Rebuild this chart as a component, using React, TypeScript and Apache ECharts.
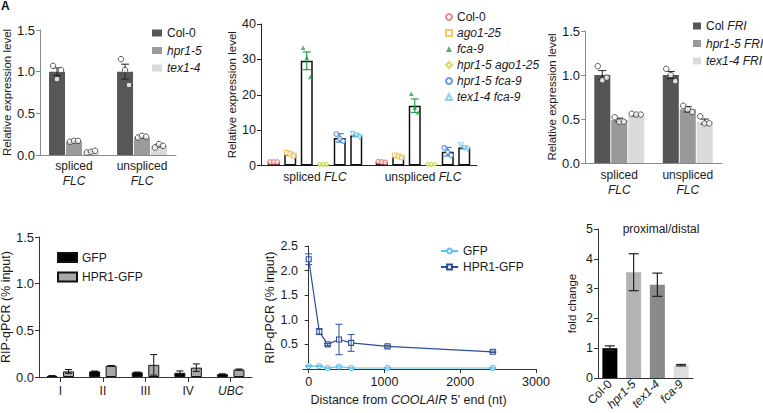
import React, { useEffect, useRef } from 'react';
import * as echarts from 'echarts';

const FONT = '"Liberation Sans", Arial, Helvetica, sans-serif';
const INK = '#1a1a1a';

// ---------- Panel A ----------
const aCategories = ['spliced', 'unspliced'];
const aGenotypes = ['Col-0', 'hpr1-5', 'tex1-4'];
const aMeans = [[1.0, 1.0], [0.16, 0.21], [0.04, 0.11]];
const aSem = [[0.045, 0.09], [0.006, 0.008], [0.005, 0.012]];
const aReps = [
  [[1.07, 0.91, 1.02], [1.15, 1.02, 0.84]],
  [[0.16, 0.17, 0.17], [0.21, 0.23, 0.22]],
  [[0.03, 0.04, 0.05], [0.09, 0.13, 0.11]],
];
const aColors = ['#575757', '#9b9b9b', '#d9d9d9'];

// ---------- Panel B ----------
const bCategories = ['spliced', 'unspliced'];
const bGenotypes = ['Col-0', 'ago1-25', 'fca-9', 'hpr1-5 ago1-25', 'hpr1-5 fca-9', 'tex1-4 fca-9'];
const bMeans = [[1.0, 1.0], [3.2, 2.6], [29.6, 16.9], [0.3, 0.3], [7.8, 3.9], [8.5, 5.1]];
const bSem = [[0.1, 0.1], [0.3, 0.3], [2.5, 1.9], [0.05, 0.05], [1.2, 1.2], [0.4, 0.5]];
const bReps = [
  [[1.0, 1.0, 1.0], [1.1, 1.0, 0.9]],
  [[3.6, 3.3, 2.8], [2.9, 2.6, 2.3]],
  [[33.3, 30.5, 25.0], [20.3, 16.3, 15.0]],
  [[0.3, 0.3, 0.3], [0.3, 0.3, 0.3]],
  [[8.9, 7.6, 6.9], [5.0, 3.8, 2.9]],
  [[9.0, 8.6, 8.0], [5.8, 5.0, 4.6]],
];
const bColors = ['#ee6b6e', '#f5b83d', '#23a045', '#c9d53c', '#3b83d6', '#71c9eb'];
const bSymbols = ['circle', 'rect', 'triangle', 'diamond', 'circle', 'triangle'];
const bHollow = [true, true, false, true, true, true];
const bRotate = [0, 0, 0, 0, 0, 180];

// ---------- Panel C ----------
const cCategories = ['spliced', 'unspliced'];
const cGenotypes = ['Col FRI', 'hpr1-5 FRI', 'tex1-4 FRI'];
const cMeans = [[1.0, 1.0], [0.49, 0.61], [0.54, 0.47]];
const cSem = [[0.05, 0.04], [0.02, 0.03], [0.006, 0.03]];
const cReps = [
  [[1.10, 0.94, 0.97], [1.07, 1.0, 0.93]],
  [[0.52, 0.47, 0.47], [0.65, 0.61, 0.58]],
  [[0.56, 0.55, 0.55], [0.53, 0.45, 0.45]],
];
const cColors = ['#555555', '#999999', '#dadada'];

// ---------- Panel D ----------
const dCategories = ['I', 'II', 'III', 'IV', 'UBC'];
const dSeriesNames = ['GFP', 'HPR1-GFP'];
const dMeans = [[0.012, 0.06, 0.05, 0.045, 0.03], [0.06, 0.12, 0.13, 0.10, 0.08]];
const dSem = [[0.003, 0.004, 0.003, 0.02, 0.004], [0.02, 0.003, 0.11, 0.04, 0.006]];
const dColors = ['#000000', '#a8a8a8'];

// ---------- Panel E ----------
const eSeriesNames = ['GFP', 'HPR1-GFP'];
const eDistance = [0, 140, 250, 400, 560, 1040, 2430];
const eGfp = [0.06, 0.06, 0.02, 0.05, 0.02, 0.02, 0.02];
const eGfpSem = [0.01, 0.01, 0.005, 0.01, 0.005, 0.005, 0.005];
const eHpr = [2.23, 0.76, 0.5, 0.6, 0.53, 0.46, 0.35];
const eHprSem = [0.11, 0.06, 0.02, 0.31, 0.17, 0.015, 0.015];
const eXTicks = [0, 1000, 2000, 3000];
const eColors = ['#5ec5ee', '#2c4d99'];

// ---------- Panel F ----------
const fGenotypes = ['Col-0', 'hpr1-5', 'tex1-4', 'fca-9'];
const fMeans = [1.0, 3.55, 3.13, 0.43];
const fSem = [0.08, 0.62, 0.39, 0.025];
const fColors = ['#000000', '#b3b3b3', '#8a8a8a', '#dedede'];

const ITALIC_RE = /^([a-z]+\d*-\d+|FRI|FLC|UBC|COOLAIR)$/;
const markup = (s: string) =>
  s.split(' ').map((t) => (ITALIC_RE.test(t) ? `{i|${t}}` : t)).join(' ');

const rich = (size: number, lh: number) => ({
  i: { fontFamily: FONT, fontSize: size, fontStyle: 'italic', color: INK, lineHeight: lh },
});

function errorSeries(axisIndex: number, rows: number[][], cfg: any) {
  const { n, step, cap, colors, width } = cfg;
  return {
    type: 'custom',
    xAxisIndex: axisIndex,
    yAxisIndex: axisIndex,
    silent: true,
    z: 4,
    encode: { x: 0, y: [1, 2] },
    data: rows,
    renderItem: (params: any, api: any) => {
      const k = api.value(3);
      const lo = api.coord([api.value(0), api.value(1)]);
      const hi = api.coord([api.value(0), api.value(2)]);
      const x = lo[0] + (k - (n - 1) / 2) * step;
      const style = { stroke: colors[k % colors.length], lineWidth: width, fill: null };
      return {
        type: 'group',
        children: [
          { type: 'line', shape: { x1: x, y1: lo[1], x2: x, y2: hi[1] }, style },
          { type: 'line', shape: { x1: x - cap, y1: hi[1], x2: x + cap, y2: hi[1] }, style },
          { type: 'line', shape: { x1: x - cap, y1: lo[1], x2: x + cap, y2: lo[1] }, style },
        ],
      };
    },
  };
}

function dotSeries(axisIndex: number, reps: number[][], k: number, n: number, step: number, spread: number, look: any) {
  const data: any[] = [];
  reps.forEach((vals, c) =>
    vals.forEach((v, j) => {
      data.push({
        value: [c, v],
        symbolOffset: [(k - (n - 1) / 2) * step + (j - (vals.length - 1) / 2) * spread, 0],
      });
    })
  );
  return {
    type: 'scatter',
    name: look.name,
    xAxisIndex: axisIndex,
    yAxisIndex: axisIndex,
    z: 5,
    silent: true,
    data,
    symbol: look.symbol,
    symbolSize: look.size,
    symbolRotate: look.rotate || 0,
    itemStyle: look.hollow
      ? { color: '#fff', borderColor: look.color, borderWidth: look.bw }
      : { color: look.color, borderColor: look.color, borderWidth: 0 },
  };
}

const groupRows = (means: number[][], sem: number[][]) =>
  means.flatMap((m, k) => m.map((v, c) => [c, v - sem[k][c], v + sem[k][c], k]));

function yAxis(gridIndex: number, min: number, max: number, interval: number, name: string, cfg: any) {
  return {
    type: 'value',
    gridIndex,
    min,
    max,
    interval,
    name,
    nameLocation: 'middle',
    nameGap: cfg.nameGap,
    nameRotate: 90,
    nameTextStyle: { fontFamily: FONT, fontSize: cfg.nameSize, color: INK },
    axisLine: { show: true, lineStyle: { color: cfg.line, width: 1 } },
    axisTick: { show: true, length: 4, lineStyle: { color: cfg.line, width: 1 } },
    axisLabel: {
      fontFamily: FONT,
      fontSize: cfg.labelSize,
      color: INK,
      margin: cfg.margin ?? 5,
      formatter: cfg.formatter,
    },
    splitLine: { show: false },
  };
}

function catAxis(gridIndex: number, data: string[], cfg: any) {
  return {
    type: 'category',
    gridIndex,
    data,
    axisLine: { show: true, lineStyle: { color: cfg.line, width: 1 } },
    axisTick: { show: !!cfg.tick, alignWithLabel: true, length: 5, lineStyle: { color: cfg.line } },
    axisLabel: {
      interval: 0,
      margin: cfg.margin,
      rotate: cfg.rotate || 0,
      fontFamily: FONT,
      fontSize: 12,
      color: INK,
      lineHeight: 15,
      formatter: cfg.formatter,
      rich: rich(12, 15),
    },
    splitLine: { show: false },
  };
}

function legend(names: string[], left: number, top: number, w: number, h: number, gap: number, icon?: string) {
  const l: any = {
    orient: 'vertical',
    left,
    top,
    itemWidth: w,
    itemHeight: h,
    itemGap: gap,
    padding: 0,
    selectedMode: false,
    data: names,
    formatter: (name: string) => markup(name.slice(2)),
    textStyle: { fontFamily: FONT, fontSize: 12, color: INK, lineHeight: 14, rich: rich(12, 14) },
  };
  if (icon) l.icon = icon;
  return l;
}

export default function App() {
  const ref = useRef<HTMLDivElement>(null);

  useEffect(() => {
    document.body.style.margin = '0';
    if (!ref.current) return;
    const chart = echarts.init(ref.current, null, { renderer: 'svg' });
    const series: any[] = [];

    // Panel A
    aGenotypes.forEach((g, k) => {
      series.push({
        type: 'bar', name: 'A:' + g, xAxisIndex: 0, yAxisIndex: 0, data: aMeans[k],
        barWidth: 16, barGap: '6%', itemStyle: { color: aColors[k] }, z: 2,
      });
    });
    series.push(errorSeries(0, groupRows(aMeans, aSem), { n: 3, step: 17, cap: 4, colors: ['#222'], width: 1 }));
    aGenotypes.forEach((g, k) =>
      series.push(dotSeries(0, aReps[k], k, 3, 17, 4, { symbol: 'circle', size: 5.5, color: '#333', hollow: true, bw: 1 }))
    );

    // Panel B
    bGenotypes.forEach((g, k) => {
      series.push({
        type: 'bar', name: 'Bbar' + k, xAxisIndex: 1, yAxisIndex: 1, data: bMeans[k],
        barWidth: 12, barGap: '37.5%', itemStyle: { color: '#fff', borderColor: '#111', borderWidth: 1.5 }, z: 2,
      });
    });
    series.push(errorSeries(1, groupRows(bMeans, bSem), { n: 6, step: 16.5, cap: 4, colors: bColors, width: 1.2 }));
    bGenotypes.forEach((g, k) =>
      series.push(
        dotSeries(1, bReps[k], k, 6, 16.5, 3.5, {
          name: 'B:' + g, symbol: bSymbols[k], size: 4.5, color: bColors[k], hollow: bHollow[k], bw: 1.2, rotate: bRotate[k],
        })
      )
    );

    // Panel C
    cGenotypes.forEach((g, k) => {
      series.push({
        type: 'bar', name: 'C:' + g, xAxisIndex: 2, yAxisIndex: 2, data: cMeans[k],
        barWidth: 16, barGap: '6%', itemStyle: { color: cColors[k] }, z: 2,
      });
    });
    series.push(errorSeries(2, groupRows(cMeans, cSem), { n: 3, step: 17, cap: 4, colors: ['#222'], width: 1 }));
    cGenotypes.forEach((g, k) =>
      series.push(dotSeries(2, cReps[k], k, 3, 17, 4.5, { symbol: 'circle', size: 5.5, color: '#333', hollow: true, bw: 1 }))
    );

    // Panel D
    dSeriesNames.forEach((s, k) => {
      series.push({
        type: 'bar', name: 'D:' + s, xAxisIndex: 3, yAxisIndex: 3, data: dMeans[k],
        barWidth: 11, barGap: '50%', itemStyle: { color: dColors[k], borderColor: '#111', borderWidth: 1 }, z: 2,
      });
    });
    series.push(errorSeries(3, groupRows(dMeans, dSem), { n: 2, step: 16.5, cap: 3.5, colors: ['#111'], width: 1 }));

    // Panel E
    const eVals = [eGfp, eHpr];
    const eSems = [eGfpSem, eHprSem];
    const eSym = ['circle', 'rect'];
    eSeriesNames.forEach((s, k) => {
      series.push({
        type: 'line', name: 'E:' + s, xAxisIndex: 4, yAxisIndex: 4,
        data: eDistance.map((d, i) => [d, eVals[k][i]]),
        symbol: eSym[k], symbolSize: 5, showSymbol: true, z: 3,
        lineStyle: { color: eColors[k], width: 1.2 },
        itemStyle: { color: '#fff', borderColor: eColors[k], borderWidth: 1.1 },
      });
      series.push(
        errorSeries(4, eDistance.map((d, i) => [d, eVals[k][i] - eSems[k][i], eVals[k][i] + eSems[k][i], k]), {
          n: 1, step: 0, cap: 3.5, colors: eColors, width: 1,
        })
      );
    });

    // Panel F
    series.push({
      type: 'bar', name: 'Fbar', xAxisIndex: 5, yAxisIndex: 5, barWidth: 15, z: 2,
      data: fMeans.map((v, i) => ({ value: v, itemStyle: { color: fColors[i] } })),
    });
    series.push(errorSeries(5, fMeans.map((v, i) => [i, v - fSem[i], v + fSem[i], 0]), { n: 1, step: 0, cap: 5, colors: ['#222'], width: 1.2 }));

    const grids = [
      { left: 40, top: 30, width: 136, height: 125 },
      { left: 261, top: 24, width: 216, height: 141.5 },
      { left: 585, top: 31, width: 137, height: 132 },
      { left: 39, top: 237, width: 213, height: 140 },
      { left: 303, top: 246, width: 233, height: 123 },
      { left: 598, top: 229, width: 95, height: 149 },
    ].map((g) => ({ ...g, containLabel: false, outerBoundsMode: 'none' }));

    const oneDec = (v: number) => v.toFixed(1);

    const option: any = {
      animation: false,
      textStyle: { fontFamily: FONT },
      grid: grids,
      xAxis: [
        catAxis(0, aCategories, { line: '#8a8a8a', margin: 3, formatter: (v: string) => `${v}\n{i|FLC}` }),
        catAxis(1, bCategories, { line: '#222', margin: 4, formatter: (v: string) => `${v} {i|FLC}` }),
        catAxis(2, cCategories, { line: '#8a8a8a', margin: 4, formatter: (v: string) => `${v}\n{i|FLC}` }),
        catAxis(3, dCategories, { line: '#333', margin: 6, tick: true, formatter: markup }),
        {
          type: 'value', gridIndex: 4, min: -75, max: 3000,
          name: markup('Distance from COOLAIR 5\' end (nt)'),
          nameLocation: 'middle', nameGap: 23,
          nameTextStyle: { fontFamily: FONT, fontSize: 12.5, color: INK, padding: [0, 22, 0, 0], rich: rich(12.5, 15) },
          axisLine: { show: true, onZero: false, lineStyle: { color: '#333', width: 1 } },
          axisTick: { show: true, length: 4, customValues: eXTicks, lineStyle: { color: '#333' } },
          axisLabel: {
            customValues: eXTicks, fontFamily: FONT, fontSize: 12.5, color: INK, margin: 6,
            formatter: (v: number) => String(v),
          },
          splitLine: { show: false },
        },
        catAxis(5, fGenotypes, { line: '#333', margin: 4, rotate: 45, formatter: markup }),
      ],
      yAxis: [
        yAxis(0, 0, 1.5, 0.5, 'Relative expression level', { nameGap: 27, nameSize: 11.5, line: '#8a8a8a', labelSize: 13, formatter: oneDec }),
        yAxis(1, 0, 40, 10, 'Relative expression level', { nameGap: 23, nameSize: 11.5, line: '#222', labelSize: 12.5 }),
        yAxis(2, 0, 1.5, 0.5, 'Relative expression level', { nameGap: 22, nameSize: 11.5, line: '#8a8a8a', labelSize: 13, formatter: oneDec }),
        yAxis(3, 0, 1.5, 0.5, 'RIP-qPCR (% input)', { nameGap: 25, nameSize: 12.5, line: '#333', labelSize: 13, formatter: oneDec }),
        yAxis(4, 0, 2.5, 0.5, 'RIP-qPCR (% input)', {
          nameGap: 25, nameSize: 12.5, line: '#333', labelSize: 12.5,
          formatter: (v: number) => (v === 0 ? '' : v.toFixed(1)),
        }),
        yAxis(5, 0, 5, 1, 'fold change', { nameGap: 20, nameSize: 11.5, line: '#333', labelSize: 12.5 }),
      ],
      legend: [
        legend(aGenotypes.map((g) => 'A:' + g), 152, 26, 10, 7, 3.5, 'rect'),
        legend(bGenotypes.map((g) => 'B:' + g), 445, 10, 6, 6, 2),
        legend(cGenotypes.map((g) => 'C:' + g), 693, 19, 8, 7, 3.5, 'rect'),
        legend(dSeriesNames.map((g) => 'D:' + g), 57, 250.5, 19, 9, 5.5, 'rect'),
        legend(eSeriesNames.map((g) => 'E:' + g), 440, 244, 17, 6, 2),
      ],
      graphic: [
        {
          type: 'text', x: 1, y: 0,
          style: { text: 'A', fontFamily: FONT, fontSize: 12, fontWeight: 'bold', fill: '#111' },
        },
        {
          type: 'text', x: 661, y: 229,
          style: {
            text: 'proximal/distal', fontFamily: FONT, fontSize: 12, fill: INK,
            align: 'center', verticalAlign: 'middle', textAlign: 'center', textVerticalAlign: 'middle',
          },
        },
      ],
      series,
    };

    chart.setOption(option);
    return () => chart.dispose();
  }, []);

  return <div ref={ref} style={{ width: 763, height: 413 }} />;
}
